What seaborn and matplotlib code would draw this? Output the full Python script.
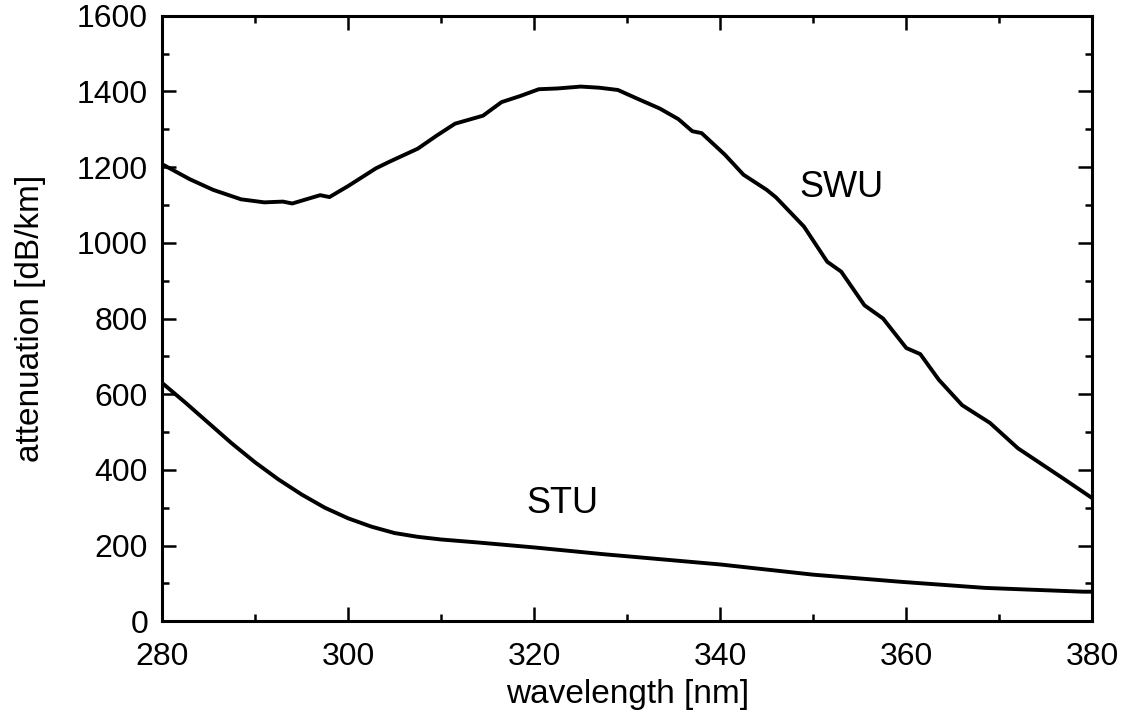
import matplotlib
matplotlib.use("Agg")
import matplotlib.pyplot as plt
import pandas as pd
import seaborn as sb
from matplotlib.ticker import MultipleLocator

# curvas (comprimento de onda em nm, atenuacao em dB/km)
wl_swu = [280, 283, 285.5, 288.5, 291, 293, 294, 297, 298, 300, 303, 304.5,
          307.5, 309.5, 311.5, 314.5, 316.5, 318.5, 320.5, 322.5, 325, 327,
          329, 331, 333.5, 335.5, 337, 338, 340.5, 342.5, 345, 346, 349, 351.5,
          353, 355.5, 357.5, 360, 361.5, 363.5, 366, 369, 372, 374.5, 377, 380]
att_swu = [1208, 1168, 1140, 1115, 1107, 1109, 1104, 1126, 1121, 1150, 1197, 1215,
           1249, 1283, 1315, 1336, 1372, 1388, 1406, 1408, 1413, 1410,
           1404, 1382, 1355, 1327, 1295, 1290, 1233, 1180, 1140, 1120, 1043, 950,
           924, 835, 800, 722, 706, 638, 571, 524, 457, 416, 375, 325]

wl_stu = [280, 282.5, 285, 287.5, 290, 292.5, 295, 297.5, 300, 302.5, 305,
          307.5, 310, 314, 320, 327.5, 340, 350, 359.5, 368.5, 379, 380]
att_stu = [630, 578, 524, 470, 420, 375, 335, 300, 272, 250, 233,
           223, 216, 208, 195, 177, 150, 123, 104, 88, 78, 78]

label_pos = {"SWU": (353, 1147), "STU": (323, 310)}

sb.set_theme(style="ticks")
plt.rcParams["font.family"] = ["Liberation Sans", "DejaVu Sans"]
plt.rcParams["text.color"] = "black"
plt.rcParams["axes.labelcolor"] = "black"
plt.rcParams["xtick.color"] = "black"
plt.rcParams["ytick.color"] = "black"

fig = plt.figure(figsize=(11.25, 7.19), dpi=100)
ax = fig.add_axes([0.144, 0.136, 0.827, 0.842])

df_swu = pd.DataFrame({"wl": wl_swu, "att": att_swu})
df_stu = pd.DataFrame({"wl": wl_stu, "att": att_stu})
sb.lineplot(data=df_swu, x="wl", y="att", ax=ax, color="black", lw=2.8, sort=False)
sb.lineplot(data=df_stu, x="wl", y="att", ax=ax, color="black", lw=2.8, sort=False)

for nome, (x, y) in label_pos.items():
    ax.text(x, y, nome, fontsize=26, ha="center", va="center", color="black")

ax.set_xlim(280, 380)
ax.set_ylim(0, 1600)
ax.xaxis.set_major_locator(MultipleLocator(20))
ax.xaxis.set_minor_locator(MultipleLocator(10))
ax.yaxis.set_major_locator(MultipleLocator(200))
ax.yaxis.set_minor_locator(MultipleLocator(100))

for s in ax.spines.values():
    s.set_linewidth(2.2)
    s.set_color("black")
ax.tick_params(which="both", direction="in", top=True, right=True, width=1.8)
ax.tick_params(which="major", length=10)
ax.tick_params(which="minor", length=5)
ax.tick_params(axis="x", labelsize=23, pad=15)
ax.tick_params(axis="y", labelsize=23, pad=10)

ax.set_xlabel("wavelength [nm]", fontsize=24, labelpad=5)
ax.set_ylabel("attenuation [dB/km]", fontsize=24, labelpad=22)

fig.savefig("out.png", dpi=100, facecolor="white")
